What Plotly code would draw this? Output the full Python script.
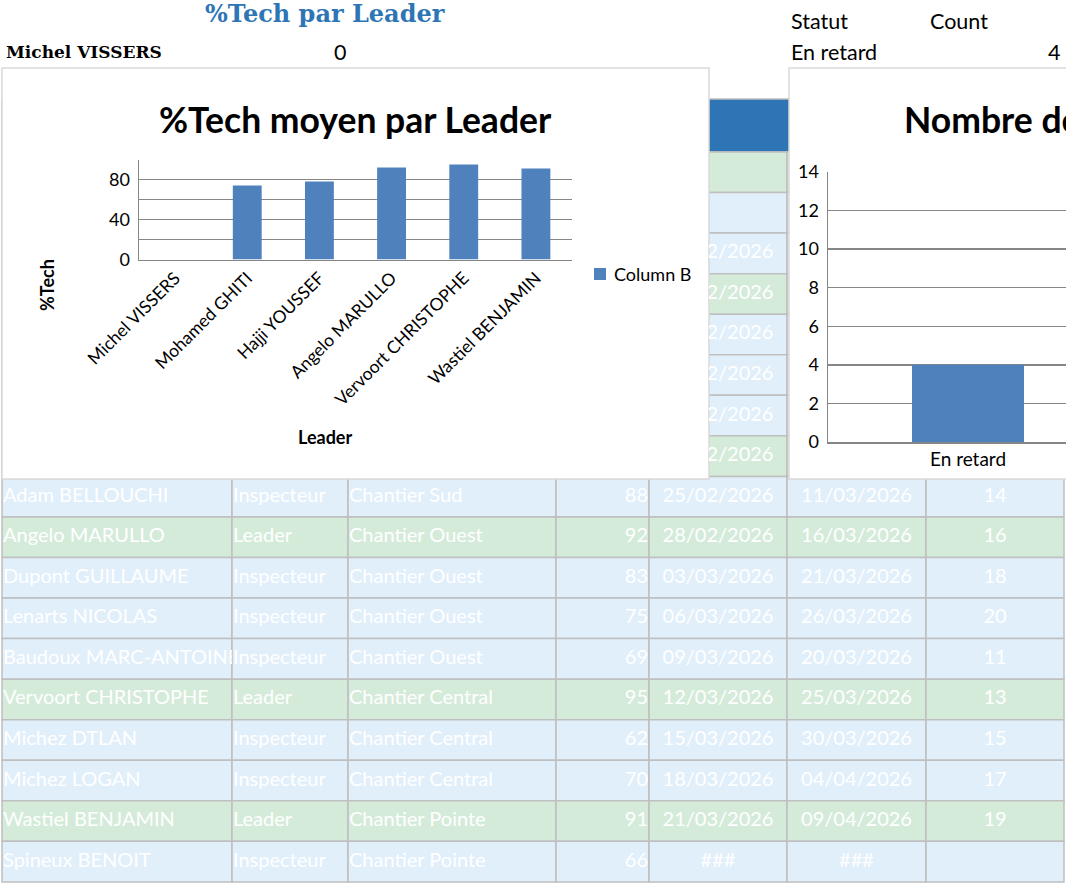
import plotly.graph_objects as go

W, H = 1066, 883

# ---------------- data ----------------
leaders = ["Michel VISSERS", "Mohamed GHITI", "Hajji YOUSSEF", "Angelo MARULLO",
           "Vervoort CHRISTOPHE", "Wastiel BENJAMIN"]
tech_moyen = [0, 74, 78, 92, 95, 91]
series_name = "Column B"

statuts = ["En retard"]
counts = [4]

# table rows hidden behind the charts (only colours and end of the date column show)
hidden_roles = ["Leader", "Inspecteur", "Inspecteur", "Leader",
                "Inspecteur", "Inspecteur", "Inspecteur", "Leader"]
hidden_debuts = ["", "", "07/02/2026", "10/02/2026", "13/02/2026",
                 "16/02/2026", "19/02/2026", "22/02/2026"]

names = ["Adam BELLOUCHI", "Angelo MARULLO", "Dupont GUILLAUME", "Lenarts NICOLAS",
         "Baudoux MARC-ANTOINE", "Vervoort CHRISTOPHE", "Michez DTLAN", "Michez LOGAN",
         "Wastiel BENJAMIN", "Spineux BENOIT"]
roles = ["Inspecteur", "Leader", "Inspecteur", "Inspecteur", "Inspecteur",
         "Leader", "Inspecteur", "Inspecteur", "Leader", "Inspecteur"]
chantiers = ["Chantier Sud", "Chantier Ouest", "Chantier Ouest", "Chantier Ouest",
             "Chantier Ouest", "Chantier Central", "Chantier Central", "Chantier Central",
             "Chantier Pointe", "Chantier Pointe"]
pct_tech = [88, 92, 83, 75, 69, 95, 62, 70, 91, 66]
debuts = ["25/02/2026", "28/02/2026", "03/03/2026", "06/03/2026", "09/03/2026",
          "12/03/2026", "15/03/2026", "18/03/2026", "21/03/2026", "###"]
fins = ["11/03/2026", "16/03/2026", "21/03/2026", "26/03/2026", "20/03/2026",
        "25/03/2026", "30/03/2026", "04/04/2026", "09/04/2026", "###"]
durees = ["14", "16", "18", "20", "11", "13", "15", "17", "19", ""]

# ---------------- styling / geometry ----------------
BLUE_CELL = "#E1EFFB"
GREEN_CELL = "#D5EBDA"
HEADER = "#2E75B6"
BORDER = "#BFBFBF"
BAR = "#4F81BD"
GRID = "#868686"
FONT = "Lato"

col_edges = [2, 232, 348, 556, 649, 787, 926, 1064]
header_top, row_top0, row_h = 99, 152, 40.55


def px(x):
    return x / W


def py(y):
    return 1 - y / H


fig = go.Figure()
shapes = []
annotations = []

# table cells
shapes.append(dict(type="rect", xref="x", yref="y", x0=col_edges[0], x1=col_edges[-1],
                   y0=header_top, y1=row_top0, fillcolor=HEADER,
                   line=dict(color=BORDER, width=1.5), layer="below"))
all_roles = hidden_roles + roles
for i, role in enumerate(all_roles):
    y0 = row_top0 + i * row_h
    fill = GREEN_CELL if role == "Leader" else BLUE_CELL
    for c in range(len(col_edges) - 1):
        shapes.append(dict(type="rect", xref="x", yref="y", x0=col_edges[c], x1=col_edges[c + 1],
                           y0=y0, y1=y0 + row_h, fillcolor=fill,
                           line=dict(color=BORDER, width=1.5), layer="below"))

# chart boxes (cover the table)
shapes.append(dict(type="rect", xref="x", yref="y", x0=2, x1=709, y0=68, y1=479,
                   fillcolor="white", line=dict(color="#D9D9D9", width=1.5), layer="below"))
shapes.append(dict(type="rect", xref="x", yref="y", x0=789, x1=1080, y0=68, y1=479,
                   fillcolor="white", line=dict(color="#D9D9D9", width=1.5), layer="below"))

# legend swatch
shapes.append(dict(type="rect", xref="x", yref="y", x0=594, x1=606, y0=268, y1=280,
                   fillcolor=BAR, line=dict(width=0), layer="below"))

# visible table rows text
n_hidden = len(hidden_roles)
row_centers = [row_top0 + (n_hidden + i + 0.5) * row_h for i in range(len(names))]
tfont = dict(family=FONT, size=20, color="#FFFFFF")


def text_trace(xs, ys, texts, pos, xa="x", ya="y"):
    return go.Scatter(x=xs, y=ys, text=texts, mode="text", textposition=pos,
                      textfont=tfont, xaxis=xa, yaxis=ya, hoverinfo="skip",
                      showlegend=False, cliponaxis=True, marker=dict(size=1))


n = len(names)
fig.add_trace(text_trace([233] * n, row_centers, roles, "middle right"))
fig.add_trace(text_trace([349] * n, row_centers, chantiers, "middle right"))
fig.add_trace(text_trace([648] * n, row_centers, [str(v) for v in pct_tech], "middle left"))
fig.add_trace(text_trace([718] * n, row_centers, debuts, "middle center"))
fig.add_trace(text_trace([856.5] * n, row_centers, fins, "middle center"))
fig.add_trace(text_trace([995] * n, row_centers, durees, "middle center"))

# names column (clipped to its cell width)
fig.add_trace(text_trace([3] * n, row_centers, names, "middle right", "x5", "y5"))

# hidden rows: date fragments visible between the two charts
hidden_centers = [row_top0 + (i + 0.5) * row_h for i in range(n_hidden)]
fig.add_trace(text_trace([718] * n_hidden, hidden_centers, hidden_debuts, "middle center", "x4", "y4"))

# ---------------- left chart ----------------
fig.add_trace(go.Bar(x=leaders, y=tech_moyen, name=series_name, marker_color=BAR,
                     marker_line_width=0,
                     xaxis="x2", yaxis="y2", showlegend=False, hoverinfo="skip"))

# ---------------- right chart ----------------
fig.add_trace(go.Bar(x=statuts, y=counts, name="Count", marker_color=BAR,
                     marker_line_width=0,
                     xaxis="x3", yaxis="y3", showlegend=False, hoverinfo="skip"))

# ---------------- texts ----------------
def ann(x, y, text, size=19, color="black", family=FONT, bold=False, xanchor="center", angle=0):
    t = f"<b>{text}</b>" if bold else text
    annotations.append(dict(x=x, y=y, xref="x", yref="y", text=t, showarrow=False,
                            xanchor=xanchor, yanchor="middle", textangle=angle,
                            font=dict(family=family, size=size, color=color)))


ann(325, 13, "%Tech par Leader", size=24, color=HEADER, family="DejaVu Serif", bold=True)
ann(4, 52, leaders[0], size=17, family="DejaVu Serif", bold=True, xanchor="left")
ann(340, 52, str(tech_moyen[0]), size=21.5)
ann(789, 21, "Statut", size=21.5, xanchor="left")
ann(928, 21, "Count", size=21.5, xanchor="left")
ann(789, 52, statuts[0], size=21.5, xanchor="left")
ann(1062, 52, str(counts[0]), size=21.5, xanchor="right")

ann(355, 119, "%Tech moyen par Leader", size=35.5, bold=True)
ann(902, 119, "Nombre de projets par Statut", size=35.5, bold=True, xanchor="left")
ann(325, 437, "Leader", size=18, bold=True)
ann(47, 285, "%Tech", size=18, bold=True, angle=-90)
ann(612, 274, series_name, size=18, xanchor="left")

# ---------------- layout ----------------
hidden_axis = dict(visible=False, showgrid=False, zeroline=False, fixedrange=True, automargin=False)

fig.update_layout(
    template="none",
    width=W, height=H, margin=dict(l=0, r=0, t=0, b=0, pad=0, autoexpand=False),
    paper_bgcolor="white", plot_bgcolor="rgba(0,0,0,0)",
    showlegend=False, bargap=0.6, hovermode=False,
    shapes=shapes, annotations=annotations,
    xaxis=dict(hidden_axis, domain=[0, 1], range=[0, W]),
    yaxis=dict(hidden_axis, domain=[0, 1], range=[H, 0]),
    xaxis4=dict(hidden_axis, domain=[px(709), px(787)], range=[709, 787], anchor="y4"),
    yaxis4=dict(hidden_axis, domain=[py(479), py(68)], range=[479, 68], anchor="x4"),
    xaxis5=dict(hidden_axis, domain=[px(2), px(232)], range=[2, 232], anchor="y5"),
    yaxis5=dict(hidden_axis, domain=[py(882), py(476)], range=[882, 476], anchor="x5"),
    xaxis2=dict(domain=[px(139), px(572)], anchor="y2", type="category",
                tickangle=-45, tickfont=dict(family=FONT, size=17.5, color="black"),
                showline=True, linecolor=GRID, linewidth=1.5, showgrid=False,
                ticks="", fixedrange=True, automargin=False),
    yaxis2=dict(domain=[py(259.5), py(159.5)], anchor="x2", range=[0, 100],
                tickvals=[0, 20, 40, 60, 80, 100], ticktext=["0", "", "40", "", "80", ""],
                tickfont=dict(family=FONT, size=18, color="black"),
                showgrid=True, gridcolor=GRID, gridwidth=1.5, zeroline=False,
                showline=True, linecolor=GRID, linewidth=1.5, ticks="",
                ticklabelstandoff=4, fixedrange=True, automargin=False),
    xaxis3=dict(domain=[px(828), 1], anchor="y3", type="category", range=[-0.5, 0.35],
                tickfont=dict(family=FONT, size=19, color="black"),
                showline=True, linecolor=GRID, linewidth=1.5, showgrid=False,
                ticks="", fixedrange=True, automargin=False),
    yaxis3=dict(domain=[py(442), py(172)], anchor="x3", range=[0, 14], dtick=2,
                tickfont=dict(family=FONT, size=18, color="black"),
                showgrid=True, gridcolor=GRID, gridwidth=1.5, zeroline=False,
                showline=True, linecolor=GRID, linewidth=1.5, ticks="",
                ticklabelstandoff=4, fixedrange=True, automargin=False),
)

fig.write_html("out.html", config={"displayModeBar": False, "staticPlot": True},
               post_script="document.body.style.margin='0px';")
